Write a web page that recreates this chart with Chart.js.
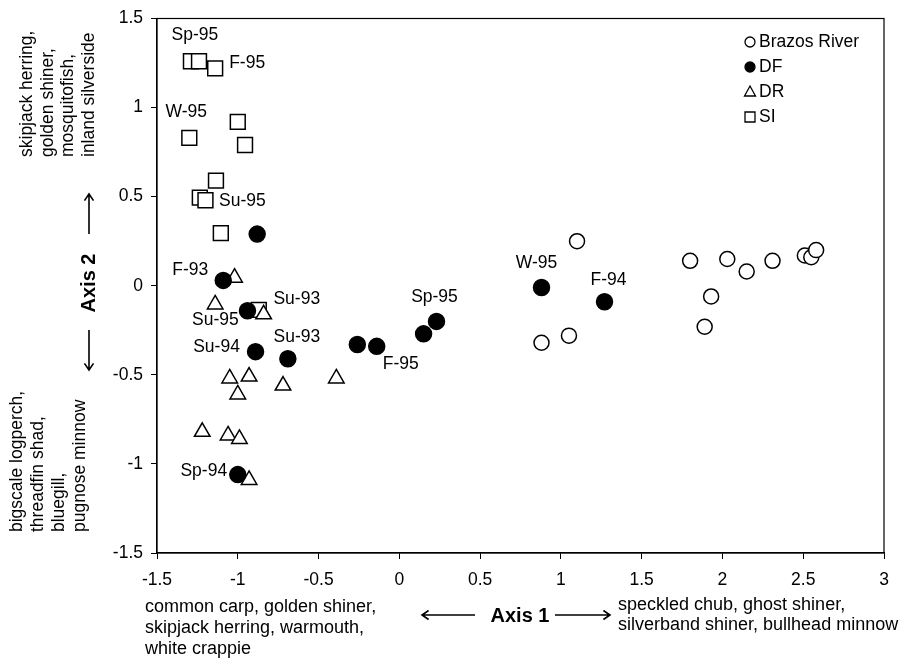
<!DOCTYPE html>
<html>
<head>
<meta charset="utf-8">
<title>Ordination - Axis 1 / Axis 2</title>
<script src="https://cdn.jsdelivr.net/npm/chart.js"></script>
<style>
  html, body { margin: 0; padding: 0; background: #fff; }
  #wrap { width: 901px; height: 660px; }
</style>
</head>
<body>
<div id="wrap"><canvas id="ordination" width="901" height="660"></canvas></div>
<script>
// site scores (Axis 1 = x, Axis 2 = y)
const brazosX = [1.10, 0.88, 1.05, 1.80, 2.03, 2.15, 2.31, 2.51, 2.55, 2.58, 1.93, 1.89];
const brazosY = [0.25, -0.32, -0.28, 0.14, 0.15, 0.08, 0.14, 0.17, 0.16, 0.20, -0.06, -0.23];

const dfX = [-0.88, -1.09, -0.94, -0.89, -0.69, -0.26, -0.14, -1.00, 0.15, 0.23, 0.88, 1.27];
const dfY = [0.29, 0.03, -0.14, -0.37, -0.41, -0.33, -0.34, -1.06, -0.27, -0.20, -0.01, -0.09];
const dfNames = ['', 'F-93', 'Su-95', 'Su-94', 'Su-93', '', 'F-95', 'Sp-94', '', 'Sp-95', 'W-95', 'F-94'];

const drX = [-1.02, -1.14, -0.84, -1.05, -0.93, -1.00, -0.72, -0.39, -1.22, -1.06, -0.99, -0.93];
const drY = [0.045, -0.105, -0.16, -0.52, -0.51, -0.61, -0.56, -0.52, -0.82, -0.84, -0.86, -1.09];

const siX = [-1.29, -1.24, -1.14, -1.30, -1.00, -0.955, -1.135, -1.235, -1.20, -1.105, -0.87];
const siY = [1.26, 1.26, 1.22, 0.83, 0.92, 0.79, 0.59, 0.495, 0.48, 0.295, -0.135];
const siNames = ['Sp-95', '', 'F-95', 'W-95', '', '', '', '', 'Su-95', '', 'Su-93'];

const seriesNames = ['Brazos River', 'DF', 'DR', 'SI'];
const xTicks = { min: -1.5, max: 3, step: 0.5 };
const yTicks = { min: -1.5, max: 1.5, step: 0.5 };

const axis1Low = ['common carp, golden shiner,', 'skipjack herring, warmouth,', 'white crappie'];
const axis1High = ['speckled chub, ghost shiner,', 'silverband shiner, bullhead minnow'];
const axis2High = ['skipjack herring,', 'golden shiner,', 'mosquitofish,', 'inland silverside'];
const axis2Low = ['bigscale logperch,', 'threadfin shad,', 'bluegill,', 'pugnose minnow'];

// where each point label sits relative to its marker (px)
const labelShift = {
  1: [null, [-33, -10], [-32, 9], [-39, -4], [9, -22], null, [24, 18], [-34, -3], null, [-2, -24], [-5, -24], [4, -22]],
  3: [[4, -26], null, [32, -5], [-3, -26], null, null, null, null, [37, 1], null, [38, -11]]
};
const pointNames = { 1: dfNames, 3: siNames };

const FONT = '"Liberation Sans", Arial, Helvetica, sans-serif';
const TEXT = '17.5px ' + FONT;

function toPoints(xs, ys) {
  return xs.map((x, i) => ({ x: x, y: ys[i] }));
}

function arrow(ctx, x1, y1, x2, y2) {
  const a = Math.atan2(y2 - y1, x2 - x1);
  const h = 8;
  ctx.beginPath();
  ctx.moveTo(x1, y1);
  ctx.lineTo(x2, y2);
  ctx.moveTo(x2 - h * Math.cos(a - 0.6), y2 - h * Math.sin(a - 0.6));
  ctx.lineTo(x2, y2);
  ctx.lineTo(x2 - h * Math.cos(a + 0.6), y2 - h * Math.sin(a + 0.6));
  ctx.stroke();
}

function rotatedLines(ctx, lines, xs, yStart) {
  lines.forEach((line, i) => {
    ctx.save();
    ctx.translate(xs[i], yStart);
    ctx.rotate(-Math.PI / 2);
    ctx.textAlign = 'left';
    ctx.textBaseline = 'middle';
    ctx.fillText(line, 0, 0);
    ctx.restore();
  });
}

// frame, point labels, legend and the axis descriptions
const decorations = {
  id: 'decorations',
  afterDraw(chart) {
    const ctx = chart.ctx;
    const area = chart.chartArea;
    ctx.save();
    ctx.strokeStyle = '#000';
    ctx.fillStyle = '#000';
    ctx.lineWidth = 1.2;
    ctx.strokeRect(area.left, area.top, area.right - area.left, area.bottom - area.top);

    // point labels
    ctx.font = TEXT;
    ctx.textAlign = 'center';
    ctx.textBaseline = 'middle';
    Object.keys(labelShift).forEach(ds => {
      const meta = chart.getDatasetMeta(+ds);
      labelShift[ds].forEach((shift, i) => {
        if (!shift || !pointNames[ds][i]) return;
        const el = meta.data[i];
        ctx.fillText(pointNames[ds][i], el.x + shift[0], el.y + shift[1]);
      });
    });

    // legend
    ctx.textAlign = 'left';
    chart.data.datasets.forEach((ds, i) => {
      const cx = 750, cy = 42 + i * 25;
      ctx.beginPath();
      if (ds.pointStyle === 'circle') {
        ctx.arc(cx, cy, 5, 0, Math.PI * 2);
      } else if (ds.pointStyle === 'triangle') {
        ctx.moveTo(cx, cy - 6);
        ctx.lineTo(cx + 5.5, cy + 4);
        ctx.lineTo(cx - 5.5, cy + 4);
        ctx.closePath();
      } else {
        ctx.rect(cx - 5, cy - 5, 10, 10);
      }
      ctx.fillStyle = ds.backgroundColor;
      ctx.fill();
      ctx.lineWidth = 1.3;
      ctx.stroke();
      ctx.fillStyle = '#000';
      ctx.fillText(ds.label, cx + 9, cy);
    });

    // axis 2 descriptions
    ctx.font = TEXT;
    rotatedLines(ctx, axis2High, [27, 48, 68, 89], 157);
    rotatedLines(ctx, axis2Low, [17, 38, 59, 80], 532);
    ctx.lineWidth = 1.6;
    arrow(ctx, 89, 234, 89, 194);
    arrow(ctx, 89, 330, 89, 370);
    ctx.save();
    ctx.translate(89, 283);
    ctx.rotate(-Math.PI / 2);
    ctx.font = 'bold 20px ' + FONT;
    ctx.textAlign = 'center';
    ctx.fillText('Axis 2', 0, 0);
    ctx.restore();

    // axis 1 descriptions
    ctx.font = '18px ' + FONT;
    ctx.textAlign = 'left';
    axis1Low.forEach((line, i) => ctx.fillText(line, 145, 607 + i * 21));
    axis1High.forEach((line, i) => ctx.fillText(line, 618, 605 + i * 20));
    arrow(ctx, 475, 615, 422, 615);
    arrow(ctx, 555, 615, 610, 615);
    ctx.font = 'bold 20px ' + FONT;
    ctx.textAlign = 'center';
    ctx.fillText('Axis 1', 520, 616);
    ctx.restore();
  }
};

const markerBase = { borderColor: '#000', borderWidth: 1.5, pointHoverRadius: 0 };
const tickText = v => String(v);

new Chart(document.getElementById('ordination'), {
  type: 'scatter',
  data: {
    datasets: [
      Object.assign({ label: seriesNames[0], data: toPoints(brazosX, brazosY), pointStyle: 'circle',
        pointRadius: 7.5, backgroundColor: '#fff' }, markerBase),
      Object.assign({ label: seriesNames[1], data: toPoints(dfX, dfY), pointStyle: 'circle',
        pointRadius: 8, backgroundColor: '#000' }, markerBase),
      Object.assign({ label: seriesNames[2], data: toPoints(drX, drY), pointStyle: 'triangle',
        pointRadius: 9, backgroundColor: '#fff' }, markerBase),
      Object.assign({ label: seriesNames[3], data: toPoints(siX, siY), pointStyle: 'rect',
        pointRadius: 10.5, backgroundColor: '#fff' }, markerBase)
    ]
  },
  options: {
    responsive: false,
    animation: false,
    events: [],
    layout: { padding: { top: 13, right: 17, left: 0, bottom: 0 } },
    plugins: {
      legend: { display: false },
      tooltip: { enabled: false }
    },
    scales: {
      x: {
        type: 'linear',
        min: xTicks.min,
        max: xTicks.max,
        ticks: { stepSize: xTicks.step, callback: tickText, color: '#000', padding: 11, font: { family: FONT, size: 17.5 } },
        grid: { drawOnChartArea: false, tickLength: 6, color: '#000' },
        border: { color: '#000', width: 1.2 },
        afterFit: scale => { scale.height = 107; }
      },
      y: {
        type: 'linear',
        min: yTicks.min,
        max: yTicks.max,
        ticks: { stepSize: yTicks.step, callback: tickText, color: '#000', padding: 8, font: { family: FONT, size: 17.5 } },
        grid: { drawOnChartArea: false, tickLength: 6, color: '#000' },
        border: { color: '#000', width: 1.2 },
        afterFit: scale => { scale.width = 157; }
      }
    }
  },
  plugins: [decorations]
});
</script>
</body>
</html>
